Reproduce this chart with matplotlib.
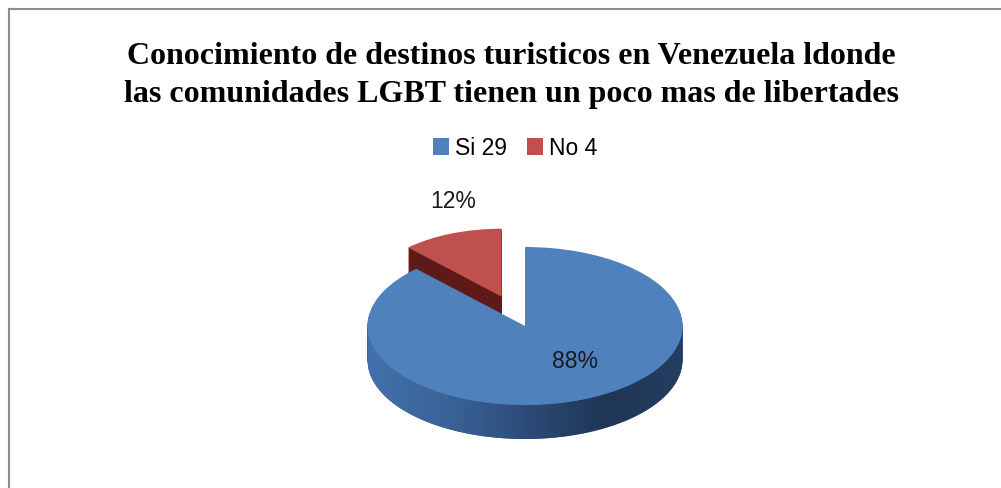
import numpy as np
import matplotlib
matplotlib.use("Agg")
import matplotlib.pyplot as plt
from matplotlib.colors import LinearSegmentedColormap
from matplotlib.patches import Polygon
from matplotlib.lines import Line2D

# ---- data ----
categories = ["Si", "No"]
counts = [29, 4]
legend_labels = ["Si 29", "No 4"]
pct_labels = ["88%", "12%"]
title = ("Conocimiento de destinos turisticos en Venezuela ldonde\n"
         "las comunidades LGBT tienen un poco mas de libertades")

top_colors = ["#4f81bd", "#c0504d"]
side_colors = ["#3a6399", "#5e1a18"]

W, H = 1001, 489
fig = plt.figure(figsize=(W / 100, H / 100), dpi=100)

cx, cy = 525, 162          # pie centre in px (from bottom)
a_px, b_px = 157.5, 79     # ellipse semi-axes in px
ax = fig.add_axes([(cx - 2 * a_px) / W, (cy - 2 * b_px) / H, 4 * a_px / W, 4 * b_px / H])
depth = 34 / b_px
explode = [0, 0.4]
back_radius = 0.86         # the exploded slice sits further back (perspective)
n_layers = 40


def draw_pie(yc, colors, z_big, z_small):
    """Draw the big slice at radius 1 and the small slice smaller (perspective)."""
    w_big, _ = ax.pie(counts, startangle=90, counterclock=False, explode=explode,
                      colors=colors, center=(0, yc), radius=1,
                      wedgeprops=dict(linewidth=0))
    w_small, _ = ax.pie(counts, startangle=90, counterclock=False, explode=explode,
                        colors=colors, center=(0, yc), radius=back_radius,
                        wedgeprops=dict(linewidth=0))
    w_big[1].remove()
    w_small[0].remove()
    w_big[0].set_zorder(z_big)
    w_small[1].set_zorder(z_small)
    return w_big[0], w_small[1]


# side layers
for k in range(n_layers, 0, -1):
    draw_pie(-depth * k / n_layers, side_colors, 3, 1)

# gradient on the front side of the big slice
t = np.linspace(np.pi, 2 * np.pi, 200)
verts = np.concatenate([np.column_stack([np.cos(t), np.sin(t)]),
                        np.column_stack([np.cos(t[::-1]), np.sin(t[::-1]) - depth])])
clip = Polygon(verts, closed=True, transform=ax.transData, facecolor="none", edgecolor="none")
cmap = LinearSegmentedColormap.from_list("side", ["#4371ab", "#3a6398", "#2c4c78", "#1f3656", "#253d5f"])
grad = np.linspace(0, 1, 256)[None, :]
im = ax.imshow(grad, extent=[-1, 1, -1 - depth, 0.05], cmap=cmap, aspect="auto",
               zorder=4, interpolation="bilinear")
im.set_clip_path(clip)

# top faces
big_top, small_top = draw_pie(0, top_colors, 5, 2)

ax.set_aspect("auto")
ax.set_xlim(-2, 2)
ax.set_ylim(-2, 2)
ax.axis("off")

# percentage labels
fig.text(575 / W, 1 - 362 / H, pct_labels[0], ha="center", va="center",
         fontsize=16.5, family="Liberation Sans", color="#1a1a1a")
fig.text(453 / W, 1 - 201 / H, pct_labels[1], ha="center", va="center",
         fontsize=16.5, family="Liberation Sans", color="#1a1a1a")

# legend
fig.legend(handles=[big_top, small_top], labels=legend_labels, loc="center",
           bbox_to_anchor=(515 / W, 1 - 149 / H), bbox_transform=fig.transFigure,
           ncol=2, frameon=False, prop=dict(family="Liberation Sans", size=16.5),
           handlelength=0.7, handleheight=0.7, handletextpad=0.25, columnspacing=0.9)

# title
fig.text(511 / W, 1 - 75.5 / H, title, ha="center", va="center",
         family="Liberation Serif", fontweight="bold", fontsize=23, linespacing=1.45)

# chart border (left and top visible)
fig.add_artist(Line2D([9 / W, 9 / W], [0, 1 - 10 / H], transform=fig.transFigure,
                      color="#8c8c8c", lw=1.5))
fig.add_artist(Line2D([9 / W, 1], [1 - 10 / H, 1 - 10 / H], transform=fig.transFigure,
                      color="#8c8c8c", lw=1.5))

fig.savefig("out.png", dpi=100, facecolor="white")
